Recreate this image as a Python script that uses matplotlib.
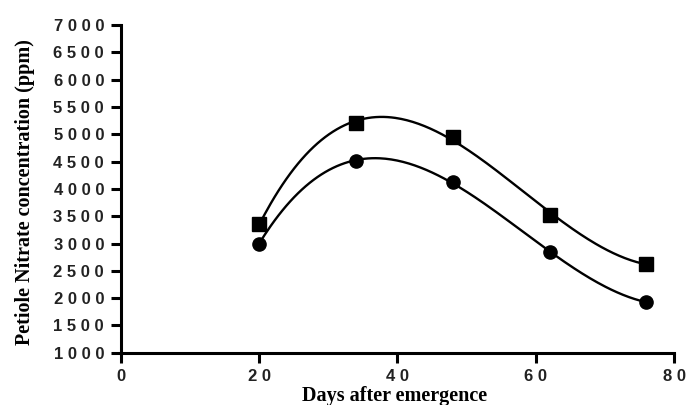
import numpy as np
import matplotlib
matplotlib.use("Agg")
import matplotlib.pyplot as plt
from matplotlib.ticker import FuncFormatter

# days after emergence
days = np.array([20, 34, 48, 62, 76])
# petiole nitrate (ppm)
nitrate_sq = np.array([3350, 5200, 4960, 3530, 2630])
nitrate_ci = np.array([3000, 4510, 4130, 2840, 1930])

xticks = [0, 20, 40, 60, 80]
yticks = np.arange(1000, 7001, 500)

fig = plt.figure(figsize=(6.88, 4.05), dpi=100)
ax = fig.add_axes([0.1754, 0.129, 0.8043, 0.809])

# smooth cubic fit through each series
xs = np.linspace(days[0], days[-1], 200)
for y, mk, ms in [(nitrate_sq, 's', 10), (nitrate_ci, 'o', 9.5)]:
	c = np.polyfit(days, y, 3)
	ax.plot(xs, np.polyval(c, xs), color='k', lw=1.7)
	ax.plot(days, y, marker=mk, color='k', ms=ms, linestyle='None')

ax.set_xlim(0, 80)
ax.set_ylim(1000, 7000)
ax.set_xticks(xticks)
ax.set_yticks(yticks)

spaced = FuncFormatter(lambda v, p: ' '.join(str(int(v))))
ax.xaxis.set_major_formatter(spaced)
ax.yaxis.set_major_formatter(spaced)

for s in ['top', 'right']:
	ax.spines[s].set_visible(False)
for s in ['left', 'bottom']:
	ax.spines[s].set_linewidth(2.2)
ax.tick_params(width=2.2, length=7, direction='out', pad=5)
for lab in ax.get_xticklabels() + ax.get_yticklabels():
	lab.set_fontfamily('Liberation Sans')
	lab.set_fontweight('bold')
	lab.set_fontsize(12)
	lab.set_color('#222222')

ax.set_xlabel('Days after emergence', family='Liberation Serif', weight='bold', fontsize=14.5, labelpad=0)
ax.set_ylabel('Petiole Nitrate concentration (ppm)', family='Liberation Serif', weight='bold', fontsize=14.5, labelpad=5)
ax.yaxis.set_label_coords(-0.155, 0.49)
ax.xaxis.set_label_coords(0.495, -0.102)

fig.savefig('out.png', dpi=100)
